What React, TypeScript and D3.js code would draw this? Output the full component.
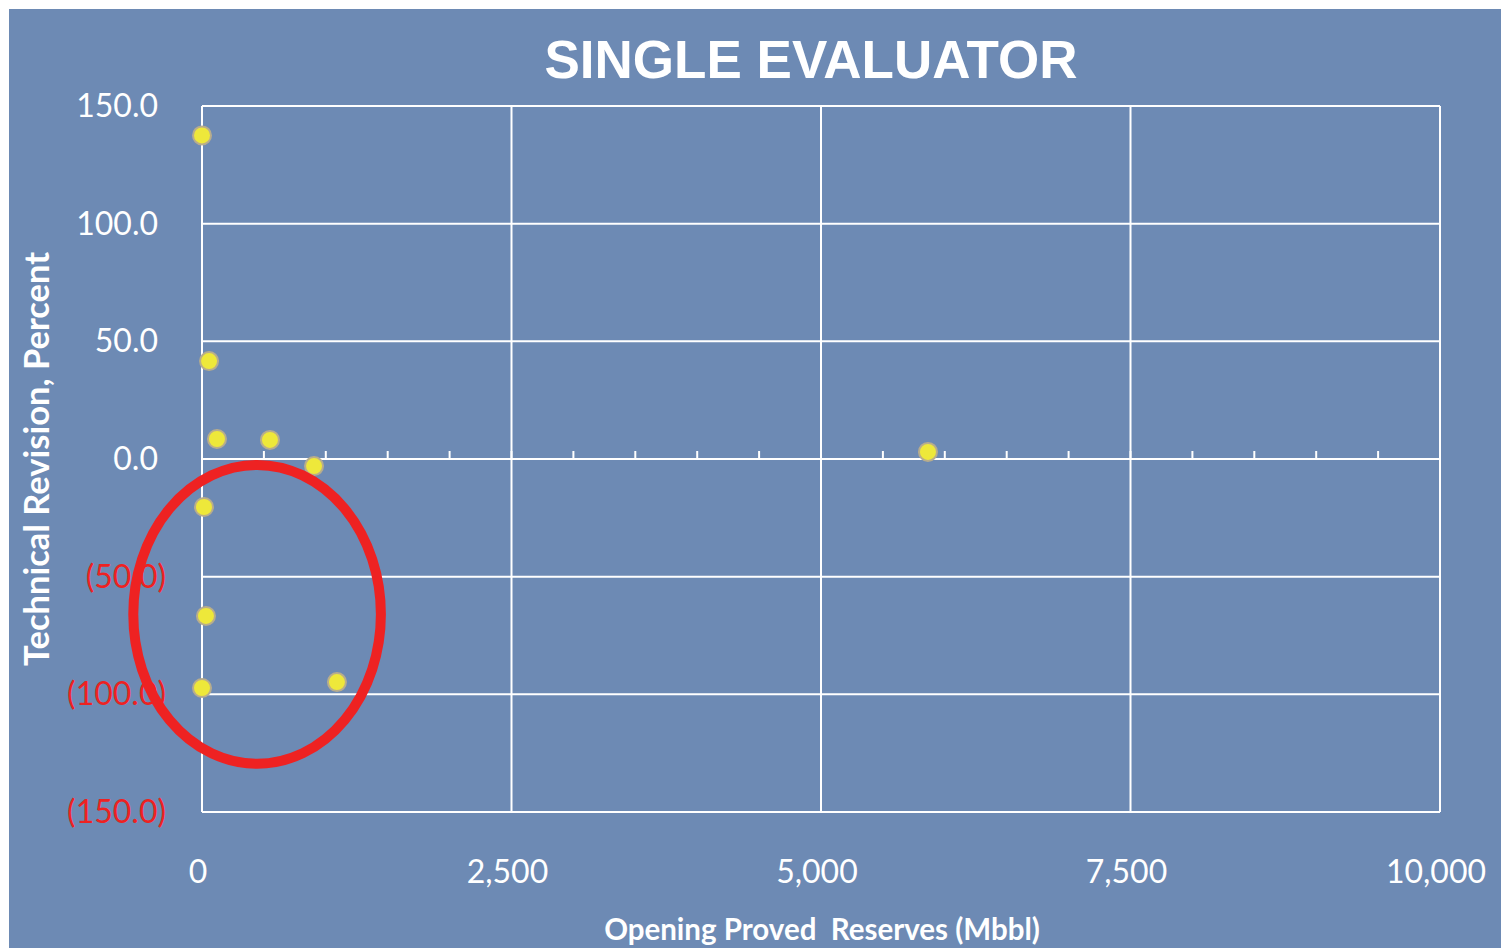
import React from "react";
import * as d3 from "d3";

// Opening proved reserves (Mbbl) vs. technical revision (%) for each property
const reserves = [0, 57, 121, 549, 905, 16, 32, 0, 1090, 5864];
const revisions = [137.5, 41.6, 8.5, 8.1, -3.0, -20.4, -66.7, -97.3, -94.8, 3.0];

const xTicks = [0, 2500, 5000, 7500, 10000];
const xMinorTicks = d3.range(500, 10000, 500);
const yTicks = [150, 100, 50, 0, -50, -100, -150];

// highlighted cluster of small properties (data coordinates)
const ringCenter = { x: 445, y: -66 };
const ringRadius = { x: 1000, y: 63.5 };

const W = 1501;
const H = 948;
const M = { left: 202, right: 1440, top: 106, bottom: 812 };

const BG = "#6d8ab4";
const WHITE = "#ffffff";
const RED = "#ee2222";

export default function App() {
  const x = d3.scaleLinear().domain([0, 10000]).range([M.left, M.right]);
  const y = d3.scaleLinear().domain([-150, 150]).range([M.bottom, M.top]);
  const fmtX = d3.format(",");
  const fmtY = (v: number) =>
    v < 0 ? `(${Math.abs(v).toFixed(1)})` : v.toFixed(1);

  const points = reserves.map((r, i) => ({ r, t: revisions[i] }));

  return (
    <svg
      width={W}
      height={H}
      style={{ position: "absolute", left: 0, top: 0, display: "block" }}
    >
      <rect x={0} y={0} width={W} height={H} fill="#ffffff" />
      <rect x={9} y={9} width={W - 9} height={H - 9} fill={BG} />

      <text
        x={811}
        y={78}
        textAnchor="middle"
        fill={WHITE}
        fontFamily="'Liberation Sans', Arial, sans-serif"
        fontWeight="bold"
        fontSize={53}
      >
        SINGLE EVALUATOR
      </text>

      {/* gridlines */}
      {yTicks.map((t) => (
        <line
          key={"gy" + t}
          x1={M.left}
          x2={M.right}
          y1={y(t)}
          y2={y(t)}
          stroke={WHITE}
          strokeWidth={2}
        />
      ))}
      {xTicks.map((t) => (
        <line
          key={"gx" + t}
          x1={x(t)}
          x2={x(t)}
          y1={M.top}
          y2={M.bottom}
          stroke={WHITE}
          strokeWidth={2}
        />
      ))}
      {/* minor ticks on the zero line */}
      {xMinorTicks.map((t) => (
        <line
          key={"mt" + t}
          x1={x(t)}
          x2={x(t)}
          y1={y(0) - 8}
          y2={y(0)}
          stroke={WHITE}
          strokeWidth={2}
        />
      ))}

      {/* y tick labels */}
      {yTicks.map((t) => (
        <text
          key={"ly" + t}
          x={t < 0 ? 166 : 158}
          y={y(t) + 11}
          textAnchor="end"
          fill={t < 0 ? RED : WHITE}
          fontFamily="Lato, sans-serif"
          fontSize={32}
        >
          {fmtY(t)}
        </text>
      ))}

      {/* x tick labels */}
      {xTicks.map((t) => (
        <text
          key={"lx" + t}
          x={x(t) - 4}
          y={883}
          textAnchor="middle"
          fill={WHITE}
          fontFamily="Lato, sans-serif"
          fontSize={32}
        >
          {fmtX(t)}
        </text>
      ))}

      {/* axis titles */}
      <text
        x={822}
        y={940}
        textAnchor="middle"
        fill={WHITE}
        fontFamily="Lato, sans-serif"
        fontWeight="bold"
        fontSize={29.5}
        style={{ whiteSpace: "pre" }}
      >
        {"Opening Proved  Reserves (Mbbl)"}
      </text>
      <text
        transform={`translate(49, 459) rotate(-90)`}
        textAnchor="middle"
        fill={WHITE}
        fontFamily="Lato, sans-serif"
        fontWeight="bold"
        fontSize={34.5}
      >
        Technical Revision, Percent
      </text>

      {/* data points */}
      {points.map((p, i) => (
        <circle
          key={"p" + i}
          cx={x(p.r)}
          cy={y(p.t)}
          r={9}
          fill="#eee83a"
          stroke="#b8ad8c"
          strokeWidth={2}
        />
      ))}

      {/* highlight ring */}
      <ellipse
        cx={x(ringCenter.x)}
        cy={y(ringCenter.y)}
        rx={x(ringRadius.x) - x(0)}
        ry={y(0) - y(ringRadius.y)}
        fill="none"
        stroke={RED}
        strokeWidth={10}
      />
    </svg>
  );
}
